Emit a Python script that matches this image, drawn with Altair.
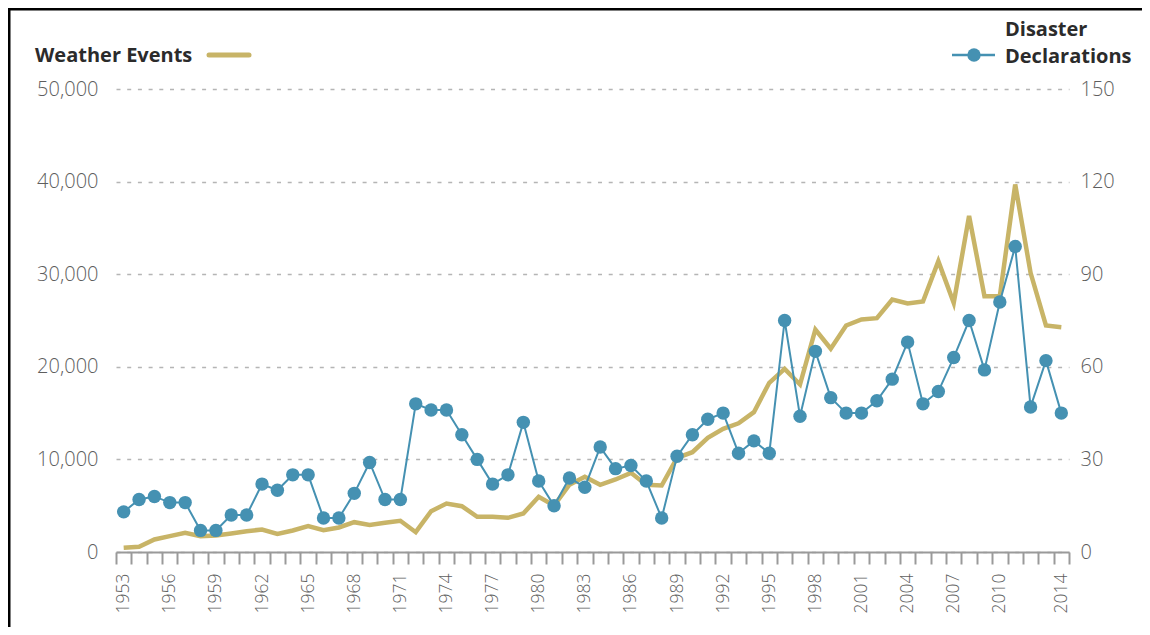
import altair as alt
import pandas as pd

years = list(range(1953, 2015))
weather_events = [
    450, 560, 1350, 1710, 2070, 1710, 1780, 2000, 2250, 2430,
    1960, 2320, 2790, 2360, 2650, 3220, 2930, 3150, 3370, 2140,
    4410, 5240, 4950, 3800, 3800, 3690, 4160, 5960, 5020, 7260,
    8120, 7260, 7830, 8550, 7260, 7180, 10170, 10780, 12330, 13300,
    13900, 15100, 18270, 19780, 18090, 24030, 21950, 24460, 25110, 25250,
    27270, 26840, 27050, 31410, 26910, 36290, 27630, 27630, 39690, 30150,
    24460, 24280,
]
disaster_declarations = [
    13, 17, 18, 16, 16, 7, 7, 12, 12, 22,
    20, 25, 25, 11, 11, 19, 29, 17, 17, 48,
    46, 46, 38, 30, 22, 25, 42, 23, 15, 24,
    21, 34, 27, 28, 23, 11, 31, 38, 43, 45,
    32, 36, 32, 75, 44, 65, 50, 45, 45, 49,
    56, 68, 48, 52, 63, 75, 59, 81, 99, 47,
    62, 45,
]
left_ticks = [0, 10000, 20000, 30000, 40000, 50000]
right_ticks = [0, 30, 60, 90, 120, 150]

GOLD = "#c8b467"
BLUE = "#4591b2"
TEXT = "#2b2b2b"
LABEL = "#5e5e5e"
FONT = "Open Sans"

df = pd.DataFrame({"year": years, "events": weather_events, "decl": disaster_declarations})
one = pd.DataFrame({"k": [0]})

W, H = 953, 463

x_enc = alt.X(
    "year:O",
    title=None,
    scale=alt.Scale(type="band", paddingInner=0, paddingOuter=0),
    axis=alt.Axis(
        tickBand="extent",
        labelAngle=270,
        labelFont=FONT,
        labelFontSize=17.5,
        labelFontWeight=300,
        labelColor=LABEL,
        labelPadding=9,
        tickSize=12,
        tickColor="#9a9a9a",
        tickWidth=2,
        domainColor="#9a9a9a",
        domainWidth=2,
        grid=False,
        labelExpr="((datum.value - 1953) % 3 == 0 && datum.value <= 2010) || datum.value == 2014 ? datum.label : ''",
    ),
)

gold = alt.Chart(df).mark_line(color=GOLD, strokeWidth=4.5, strokeJoin="miter").encode(
    x=x_enc,
    y=alt.Y(
        "events:Q",
        title=None,
        scale=alt.Scale(domain=[0, 50000]),
        axis=alt.Axis(
            values=left_ticks,
            format=",d",
            orient="left",
            domain=False,
            ticks=False,
            labelFont=FONT,
            labelFontSize=20,
            labelFontWeight=300,
            labelColor=LABEL,
            labelPadding=18,
            grid=True,
            gridColor="#b5b5b5",
            gridWidth=1.6,
            gridDash=[4, 6.7],
        ),
    ),
)

blue_y = alt.Y(
    "decl:Q",
    title=None,
    scale=alt.Scale(domain=[0, 150]),
    axis=alt.Axis(
        values=right_ticks,
        orient="right",
        domain=False,
        ticks=False,
        labelFont=FONT,
        labelFontSize=20,
        labelFontWeight=300,
        labelColor=LABEL,
        labelPadding=11,
        grid=False,
    ),
)
blue_line = alt.Chart(df).mark_line(color=BLUE, strokeWidth=2).encode(x=x_enc, y=blue_y)
blue_pts = alt.Chart(df).mark_circle(color=BLUE, size=180, opacity=1).encode(x=x_enc, y=blue_y)
blue = alt.layer(blue_line, blue_pts)

# legend / decoration
LEG_SIZE = 20
leg_w_text = alt.Chart(one).mark_text(
    text="Weather Events", font=FONT, fontSize=LEG_SIZE, fontWeight="bold", color=TEXT,
    align="left", baseline="alphabetic"
).encode(x=alt.value(-81), y=alt.value(-27))
leg_w_line = alt.Chart(one).mark_rule(color=GOLD, strokeWidth=5, strokeCap="round").encode(
    x=alt.value(93), x2=alt.value(133), y=alt.value(-34)
)
leg_d_text1 = alt.Chart(one).mark_text(
    text="Disaster", font=FONT, fontSize=LEG_SIZE, fontWeight="bold", color=TEXT,
    align="left", baseline="alphabetic"
).encode(x=alt.value(889), y=alt.value(-53))
leg_d_text2 = alt.Chart(one).mark_text(
    text="Declarations", font=FONT, fontSize=LEG_SIZE, fontWeight="bold", color=TEXT,
    align="left", baseline="alphabetic"
).encode(x=alt.value(889), y=alt.value(-26))
leg_d_line = alt.Chart(one).mark_rule(color=BLUE, strokeWidth=2.5).encode(
    x=alt.value(836), x2=alt.value(879), y=alt.value(-34)
)
leg_d_dot = alt.Chart(one).mark_circle(color=BLUE, size=180, opacity=1).encode(
    x=alt.value(858), y=alt.value(-34)
)
frame_top = alt.Chart(one).mark_rule(color="#000000", strokeWidth=3).encode(
    x=alt.value(-108), x2=alt.value(W + 73), y=alt.value(-80)
)
frame_left = alt.Chart(one).mark_rule(color="#000000", strokeWidth=3).encode(
    x=alt.value(-107), y=alt.value(-81), y2=alt.value(H + 75)
)

chart = (
    alt.layer(gold, blue)
    .resolve_scale(y="independent")
)
chart = alt.layer(
    chart, leg_w_text, leg_w_line, leg_d_line, leg_d_dot, leg_d_text1, leg_d_text2,
    frame_top, frame_left
).properties(
    width=W,
    height=H,
    background="white",
    padding={"left": 108, "top": 81, "right": 73, "bottom": 75},
    autosize=alt.AutoSizeParams(type="none"),
).configure_view(strokeWidth=0, strokeOpacity=0)

chart.save("out.html", embed_options={"renderer": "svg", "actions": False})
